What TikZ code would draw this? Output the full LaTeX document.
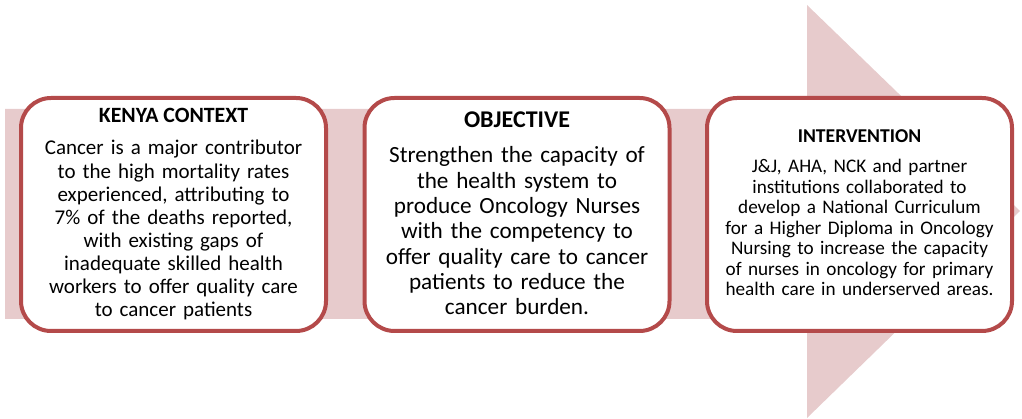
\documentclass[tikz,border=0pt]{standalone}
\usepackage{fontspec}
\setmainfont{Carlito}
\usetikzlibrary{positioning}
\definecolor{Akcent}{HTML}{B44A4A}
\definecolor{Strelica}{HTML}{E7CBCC}
\tikzset{
  panel/.style      = {rectangle, rounded corners=30pt, draw=Akcent, line width=4pt,
                       fill=white, minimum width=305pt, minimum height=233pt},
  paneltitle/.style = {anchor=base, inner sep=0pt},
  paneltext/.style  = {anchor=base, align=center, text width=300pt, inner sep=0pt},
}

\begin{document}
\begin{tikzpicture}[x=1pt, y=-1pt]
  \useasboundingbox (0,0) rectangle (1022,419);
  % big arrow behind the panels
  \fill[Strelica] (5,109) -- (807,109) -- (807,5) -- (1020,211) -- (807,418)
                  -- (807,319) -- (5,319) -- cycle;

  \node[panel] (kenya)        at (173.5,214.5) {};
  \node[panel] (objective)    at (517,214.5)   {};
  \node[panel] (intervention) at (859.5,214.5) {};

  \node[paneltitle, font=\fontsize{21.8}{25}\selectfont\bfseries]
        (kenyatitle) at ([yshift=-27pt]kenya.north) {KENYA CONTEXT};
  \node[paneltext, font=\fontsize{21}{23.1}\selectfont]
        (kenyatext) at ([yshift=-59pt]kenya.north)
        {Cancer is a major contributor\\ to the high mortality rates\\
         experienced, attributing to\\ 7\% of the deaths reported,\\
         with existing gaps of\\ inadequate skilled health\\
         workers to offer quality care\\ to cancer patients};

  \node[paneltitle, font=\fontsize{24}{27}\selectfont\bfseries]
        (objectivetitle) at ([yshift=-32pt]objective.north) {OBJECTIVE};
  \node[paneltext, font=\fontsize{23.2}{25.3}\selectfont]
        (objectivetext) at ([yshift=-67pt]objective.north)
        {Strengthen the capacity of\\ the health system to\\
         produce Oncology Nurses\\ with the competency to\\
         offer quality care to cancer\\ patients to reduce the\\ cancer burden.};

  \node[paneltitle, font=\fontsize{19.6}{22}\selectfont\bfseries]
        (interventiontitle) at ([yshift=-47pt]intervention.north) {INTERVENTION};
  \node[paneltext, font=\fontsize{19.2}{20.5}\selectfont]
        (interventiontext) at ([yshift=-77pt]intervention.north)
        {J\&J, AHA, NCK and partner\\ institutions collaborated to\\
         develop a National Curriculum\\ for a Higher Diploma in Oncology\\
         Nursing to increase the capacity\\ of nurses in oncology for primary\\
         health care in underserved areas.};
\end{tikzpicture}
\end{document}
